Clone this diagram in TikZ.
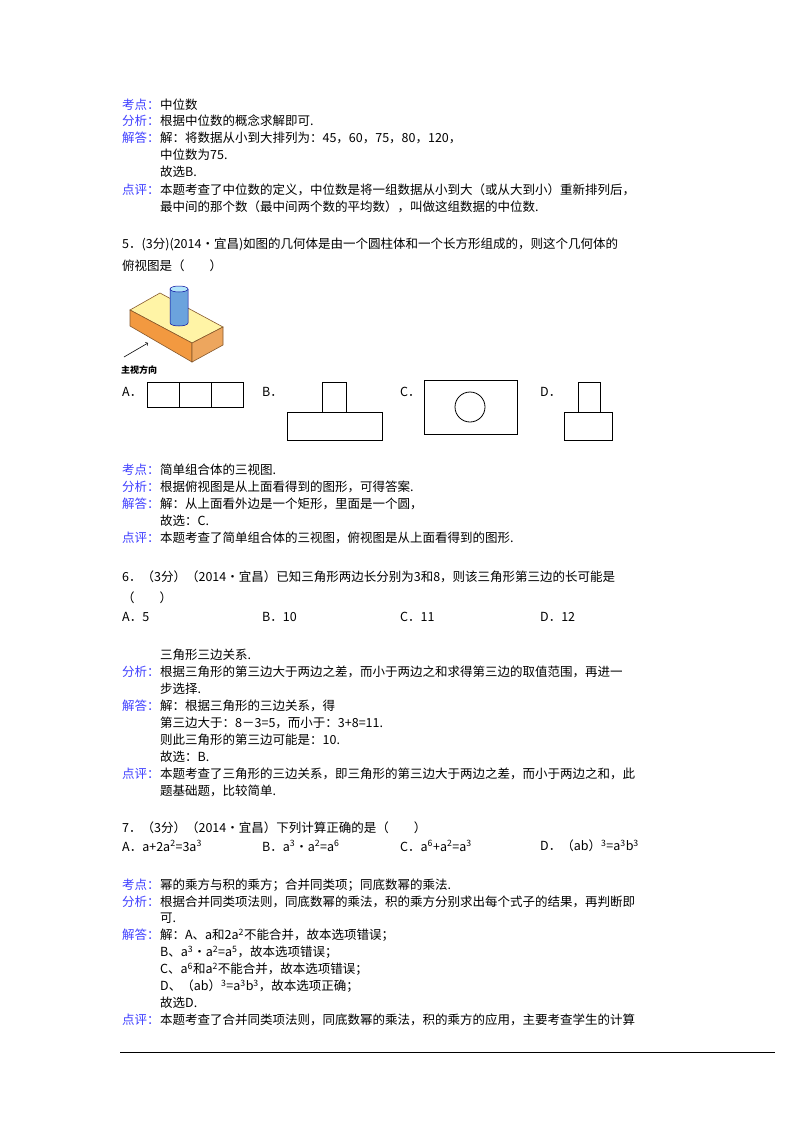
\documentclass[tikz,border=0pt]{standalone}
\usepackage{fontspec}
\setmainfont{Liberation Serif}
\newfontfamily\cjk{Noto Sans CJK SC}
\begin{document}
\begin{tikzpicture}[x=1pt,y=-1pt,
  t/.style={anchor=west,inner sep=0pt,font=\fontsize{12.5}{14}\selectfont\cjk},
  lb/.style={t,text=blue!75!white},
  bx/.style={draw,line width=0.8pt}]
\useasboundingbox (0,0) rectangle (800,1132);
\fill[white] (0,0) rectangle (800,1132);
% section 1
\node[lb] (l1) at (122,105) {考点：};\node[t] (a1) at (l1.east) {中位数};
\node[lb] (l2) at (122,121) {分析：};\node[t] (a2) at (l2.east) {根据中位数的概念求解即可.};
\node[lb] (l3) at (122,138) {解答：};\node[t] (a3) at (l3.east) {解：将数据从小到大排列为：45，60，75，80，120，};
\node[t] (a4) at (160,155) {中位数为75.};
\node[t] (a5) at (160,172) {故选B.};
\node[lb] (l4) at (122,190) {点评：};\node[t] (a6) at (l4.east) {本题考查了中位数的定义，中位数是将一组数据从小到大（或从大到小）重新排列后，};
\node[t] (a7) at (160,207) {最中间的那个数（最中间两个数的平均数），叫做这组数据的中位数.};
% Q5
\node[t] (q5) at (122,244) {5．(3分)(2014•宜昌)如图的几何体是由一个圆柱体和一个长方形组成的，则这个几何体的};
\node[t] (q5b) at (122,266) {俯视图是（　　）};
% figure
\fill[orange!25!yellow!35!white,draw=brown!70!black,line width=0.6pt] (130,310)--(160,293)--(223,327)--(192,343)--cycle;
\fill[orange!75!brown!80!white,draw=brown!70!black,line width=0.6pt] (130,310)--(192,343)--(192,362)--(130,326)--cycle;
\fill[orange!60!brown!70!white,draw=brown!70!black,line width=0.6pt] (192,343)--(223,327)--(223,345)--(192,362)--cycle;
\fill[cyan!60!blue!60!white,draw=blue!60!black,line width=0.5pt] (170,289) -- (170,323) arc[start angle=180,end angle=0,x radius=9,y radius=3] -- (188,289);
\fill[cyan!30!white,draw=blue!60!black,line width=0.5pt] (179,289) ellipse[x radius=9,y radius=3];
\coordinate (ar1) at (124,357); \coordinate (ar2) at (148,343);
\draw[->,line width=0.6pt] (ar1)--(ar2);
\node[t,font=\fontsize{9}{10}\selectfont\cjk\bfseries] (zs) at (121,370) {主视方向};
% options
\node[t] (oa) at (122,392) {A．};
\draw[bx] (147,382) rectangle (243,407); \draw[bx] (179,382)--(179,407); \draw[bx] (211,382)--(211,407);
\node[t] (ob) at (262,392) {B．};
\draw[bx] (322,382) rectangle (346,412); \draw[bx] (287,412) rectangle (382,440);
\node[t] (oc) at (400,392) {C．};
\draw[bx] (424,380) rectangle (517,434); \draw[bx] (470,407) circle (15);
\node[t] (od) at (540,392) {D．};
\draw[bx] (578,382) rectangle (600,412); \draw[bx] (564,412) rectangle (612,440);
\node[lb] (m1) at (122,470) {考点：};\node[t] at (m1.east) {简单组合体的三视图.};
\node[lb] (m2) at (122,487) {分析：};\node[t] at (m2.east) {根据俯视图是从上面看得到的图形，可得答案.};
\node[lb] (m3) at (122,504) {解答：};\node[t] at (m3.east) {解：从上面看外边是一个矩形，里面是一个圆，};
\node[t] (m4) at (160,521) {故选：C.};
\node[lb] (m5) at (122,538) {点评：};\node[t] at (m5.east) {本题考查了简单组合体的三视图，俯视图是从上面看得到的图形.};
% Q6
\node[t] (q6) at (122,577) {6．（3分）（2014•宜昌）已知三角形两边长分别为3和8，则该三角形第三边的长可能是};
\node[t] (q6b) at (122,598) {（　　）};
\node[t] (p1) at (122,617) {A．5};
\node[t] (p2) at (262,617) {B．10};
\node[t] (p3) at (400,617) {C．11};
\node[t] (p4) at (540,617) {D．12};
\node[t] (n0) at (160,655) {三角形三边关系.};
\node[lb] (n1) at (122,672) {分析：};\node[t] at (n1.east) {根据三角形的第三边大于两边之差，而小于两边之和求得第三边的取值范围，再进一};
\node[t] (n2) at (160,689) {步选择.};
\node[lb] (n3) at (122,706) {解答：};\node[t] at (n3.east) {解：根据三角形的三边关系，得};
\node[t] (n4) at (160,723) {第三边大于：8－3=5，而小于：3+8=11.};
\node[t] (n5) at (160,740) {则此三角形的第三边可能是：10.};
\node[t] (n6) at (160,757) {故选：B.};
\node[lb] (n7) at (122,774) {点评：};\node[t] at (n7.east) {本题考查了三角形的三边关系，即三角形的第三边大于两边之差，而小于两边之和，此};
\node[t] (n8) at (160,791) {题基础题，比较简单.};
% Q7
\node[t] (q7) at (122,828) {7．（3分）（2014•宜昌）下列计算正确的是（　　）};
\node[t] (r1) at (122,846) {A．a+2a\textsuperscript{2}=3a\textsuperscript{3}};
\node[t] (r2) at (262,846) {B．a\textsuperscript{3}•a\textsuperscript{2}=a\textsuperscript{6}};
\node[t] (r3) at (400,846) {C．a\textsuperscript{6}+a\textsuperscript{2}=a\textsuperscript{3}};
\node[t] (r4) at (540,846) {D．（ab）\textsuperscript{3}=a\textsuperscript{3}b\textsuperscript{3}};
\node[lb] (s1) at (122,885) {考点：};\node[t] at (s1.east) {幂的乘方与积的乘方；合并同类项；同底数幂的乘法.};
\node[lb] (s2) at (122,902) {分析：};\node[t] at (s2.east) {根据合并同类项法则，同底数幂的乘法，积的乘方分别求出每个式子的结果，再判断即};
\node[t] (s3) at (160,918) {可.};
\node[lb] (s4) at (122,935) {解答：};\node[t] at (s4.east) {解：A、a和2a\textsuperscript{2}不能合并，故本选项错误；};
\node[t] (s5) at (160,952) {B、a\textsuperscript{3}•a\textsuperscript{2}=a\textsuperscript{5}，故本选项错误；};
\node[t] (s6) at (160,969) {C、a\textsuperscript{6}和a\textsuperscript{2}不能合并，故本选项错误；};
\node[t] (s7) at (160,986) {D、（ab）\textsuperscript{3}=a\textsuperscript{3}b\textsuperscript{3}，故本选项正确；};
\node[t] (s8) at (160,1003) {故选D.};
\node[lb] (s9) at (122,1020) {点评：};\node[t] at (s9.east) {本题考查了合并同类项法则，同底数幂的乘法，积的乘方的应用，主要考查学生的计算};
\draw[line width=0.8pt] (120,1052)--(775,1052);
\end{tikzpicture}
\end{document}
